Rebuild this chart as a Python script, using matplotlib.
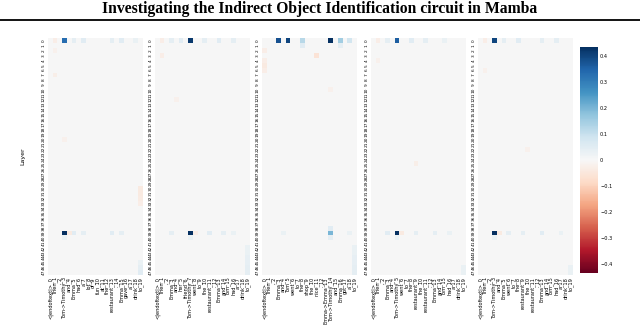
import numpy as np
import matplotlib
matplotlib.use("Agg")
import matplotlib.pyplot as plt
from matplotlib.lines import Line2D

n_layers = 48

labels_1 = ["<|endoftext|>_0", "Then_1", ",_2", "Tom->Timothy_3", "and_4", "Emma_5",
            "had_6", "a_7", "lot_8", "of_9", "fun_10", "at_11", "the_12",
            "restaurant_13", "._14", "Emma_15", "gave_16", "a_17", "drink_18", "to_19"]
labels_2 = ["<|endoftext|>_0", "Then_1", ",_2", "Emma_3", "and_4", "her_5", "friend_6",
            "Tom->Timothy_7", "went_8", "to_9", "the_10", "restaurant_11", "._12",
            "Emma_13", "and_14", "Tom_15", "had_16", "a_17", "drink_18", "to_19"]
labels_3 = ["<|endoftext|>_0", "Then_1", ",_2", "Emma_3", "and_4", "Tom_5", "went_6",
            "to_7", "the_8", "shop_9", "the_10", "nice_11", "._12", "Emma->Emma_13",
            "Tom->Timothy_14", "and_15", "Emma_16", "got_17", "a_18", "to_19"]
labels_4 = ["<|endoftext|>_0", "Then_1", ",_2", "Emma_3", "and_4", "Tom->Timothy_5",
            "went_6", "to_7", "the_8", "restaurant_9", "the_10", "restaurant_11",
            "._12", "Emma_13", "and_14", "Tom_15", "had_16", "a_17", "drink_18", "to_19"]
labels_5 = ["<|endoftext|>_0", "Then_1", ",_2", "Tom->Timothy_3", "and_4", "Emma_5",
            "went_6", "to_7", "the_8", "restaurant_9", "the_10", "restaurant_11",
            "._12", "Emma_13", "and_14", "Tom_15", "had_16", "a_17", "drink_18", "to_19"]

# notable cells per panel: (layer, column, value); all others are ~0
cells_1 = [(0, 3, 0.33), (0, 5, 0.04), (0, 7, 0.05), (0, 13, 0.04), (0, 15, 0.05),
           (0, 18, 0.03), (0, 1, -0.03), (2, 1, -0.02), (7, 1, -0.025), (20, 3, -0.02),
           (39, 3, 0.44), (39, 4, -0.04), (39, 5, 0.05), (39, 7, 0.04), (39, 13, 0.05),
           (39, 15, 0.04), (40, 3, 0.03), (30, 19, -0.04), (31, 19, -0.04),
           (32, 19, -0.035), (33, 19, -0.03), (45, 19, 0.03), (46, 19, 0.04),
           (47, 19, 0.05)]
cells_2 = [(0, 7, 0.42), (0, 3, 0.04), (0, 5, 0.05), (0, 10, 0.04), (0, 13, 0.05),
           (0, 16, 0.04), (0, 1, -0.03), (3, 1, -0.03), (12, 4, -0.02),
           (39, 7, 0.45), (39, 8, -0.03), (39, 3, 0.04), (39, 11, 0.05),
           (39, 14, 0.04), (39, 16, 0.03), (40, 7, 0.03), (42, 19, 0.03),
           (43, 19, 0.03), (44, 19, 0.035), (45, 19, 0.035), (46, 19, 0.04),
           (47, 19, 0.04)]
cells_3 = [(0, 3, 0.38), (0, 5, 0.4), (0, 8, 0.12), (0, 14, 0.44), (0, 16, 0.15),
           (0, 18, 0.08), (1, 8, 0.05), (1, 16, 0.04), (2, 0, -0.03), (3, 11, -0.06),
           (4, 0, -0.03), (5, 0, -0.04), (6, 0, -0.03), (10, 14, -0.02), (39, 14, 0.2),
           (38, 14, 0.05), (40, 14, 0.04), (39, 4, 0.03), (39, 18, 0.03),
           (42, 19, 0.03), (43, 19, 0.03), (44, 19, 0.035), (45, 19, 0.035),
           (46, 19, 0.04), (47, 19, 0.04)]
cells_4 = [(0, 5, 0.36), (0, 3, 0.04), (0, 8, 0.05), (0, 11, 0.04), (0, 15, 0.03),
           (0, 1, -0.03), (4, 1, -0.02), (25, 9, -0.025), (39, 5, 0.45), (39, 6, -0.04),
           (39, 3, 0.05), (39, 9, 0.04), (39, 13, 0.04), (39, 16, 0.03), (40, 5, 0.03),
           (46, 19, 0.03), (47, 19, 0.03)]
cells_5 = [(0, 3, 0.4), (0, 5, 0.04), (0, 8, 0.05), (0, 13, 0.04), (0, 16, 0.04),
           (0, 1, -0.03), (6, 1, -0.02), (22, 10, -0.02), (39, 3, 0.44), (39, 4, -0.04),
           (39, 6, 0.04), (39, 9, 0.04), (39, 13, 0.05), (39, 17, 0.03), (40, 3, 0.03),
           (46, 19, 0.03), (47, 19, 0.03)]

panels = [(labels_1, cells_1), (labels_2, cells_2), (labels_3, cells_3),
          (labels_4, cells_4), (labels_5, cells_5)]

W, H = 640, 325
fig = plt.figure(figsize=(W / 100, H / 100), dpi=100)

fig.text(0.5, 1 - 9 / H, "Investigating the Indirect Object Identification circuit in Mamba",
         ha="center", va="center", family="Liberation Serif", fontweight="bold", fontsize=11.3)
fig.add_artist(Line2D([0, 1], [1 - 20 / H, 1 - 20 / H], color="black", lw=1.3))

vlim = 0.435
x_starts = [48, 155, 262, 371, 478]
pw = 95
top, bot = 38, 275
im = None
for i, (labels, cells) in enumerate(panels):
    data = np.zeros((n_layers, len(labels)))
    for r, c, v in cells:
        data[r, c] = v
    ax = fig.add_axes([x_starts[i] / W, 1 - bot / H, pw / W, (bot - top) / H])
    im = ax.imshow(data, cmap="RdBu", vmin=-vlim, vmax=vlim, aspect="auto",
                   interpolation="nearest")
    ax.set_xticks(np.arange(len(labels)))
    ax.set_xticklabels(labels, rotation=90, fontsize=3.6)
    ax.set_yticks(np.arange(n_layers))
    ax.set_yticklabels([str(k) for k in range(n_layers)], rotation=90, fontsize=3.1,
                       va="center")
    ax.tick_params(length=0, pad=1.5)
    for s in ax.spines.values():
        s.set_visible(False)
    if i == 0:
        ax.set_ylabel("Layer", fontsize=4.5, labelpad=12)

cax = fig.add_axes([580 / W, 1 - 273 / H, 18 / W, 226 / H])
cb = fig.colorbar(im, cax=cax)
cb.set_ticks([0.4, 0.3, 0.2, 0.1, 0, -0.1, -0.2, -0.3, -0.4])
cb.set_ticklabels(["0.4", "0.3", "0.2", "0.1", "0", "\u22120.1", "\u22120.2", "\u22120.3", "\u22120.4"])
cb.ax.tick_params(labelsize=3.6, length=0, pad=1.5)
cb.outline.set_visible(False)

fig.savefig("out.png", dpi=100)
